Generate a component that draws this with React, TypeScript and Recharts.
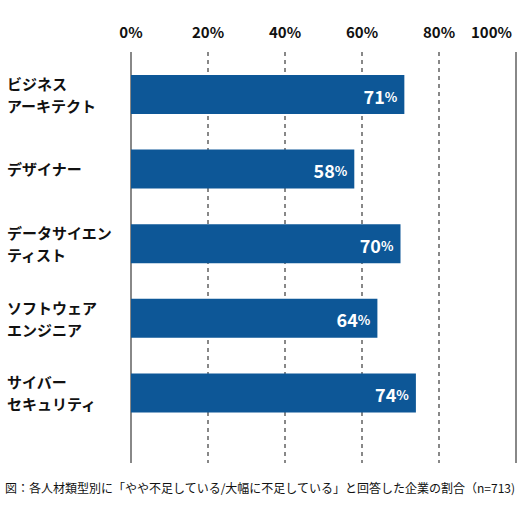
import React from "react";
import { BarChart, Bar, XAxis, YAxis, CartesianGrid, LabelList } from "recharts";

const categories = [
  "ビジネス\nアーキテクト",
  "デザイナー",
  "データサイエン\nティスト",
  "ソフトウェア\nエンジニア",
  "サイバー\nセキュリティ",
];
const shortageRates = [71, 58, 70, 64, 74];
const xTicks = [0, 20, 40, 60, 80, 100];
const caption = "図：各人材類型別に「やや不足している/大幅に不足している」と回答した企業の割合（n=713)";

const data = categories.map((name, i) => ({ name, value: shortageRates[i] }));

const FONT = "'Noto Sans CJK JP', 'Noto Sans', sans-serif";
const BAR_COLOR = "#0d5797";
const LINE_COLOR = "#888888";

const XTick = (props: any) => {
  const { x, payload, index } = props;
  const last = index === xTicks.length - 1;
  return (
    <text
      x={last ? x - 4 : x}
      y={38}
      textAnchor={last ? "end" : "middle"}
      fontFamily={FONT}
      fontWeight={700}
      fontSize={15}
      fill="#111"
    >
      {payload.value}%
    </text>
  );
};

const YTick = (props: any) => {
  const { y, payload } = props;
  const lines = String(payload.value).split("\n");
  const start = y - ((lines.length - 1) * 22) / 2;
  return (
    <text fontFamily={FONT} fontWeight={700} fontSize={15} fill="#111">
      {lines.map((l, i) => (
        <tspan key={i} x={7} y={start + i * 22} dominantBaseline="central">
          {l}
        </tspan>
      ))}
    </text>
  );
};

const ValueLabel = (props: any) => {
  const { x, y, width, height, value } = props;
  return (
    <text
      x={x + width - 7}
      y={y + height / 2 + 1}
      textAnchor="end"
      dominantBaseline="central"
      fontFamily={FONT}
      fontWeight={700}
      fill="#fff"
    >
      <tspan fontSize={18}>{value}</tspan>
      <tspan fontSize={13}>%</tspan>
    </text>
  );
};

const GridLine = (props: any) => {
  const { x1, y1, x2, y2, index } = props;
  const edge = index === 0 || index === xTicks.length - 1;
  return (
    <line
      x1={x1}
      y1={y1}
      x2={x2}
      y2={y2}
      stroke={LINE_COLOR}
      strokeWidth={2}
      strokeDasharray={edge ? undefined : "4 4"}
    />
  );
};

export default function App() {
  return (
    <div style={{ position: "absolute", left: 0, top: 0, width: 520, height: 520, background: "#fff" }}>
      <BarChart
        width={520}
        height={470}
        data={data}
        layout="vertical"
        margin={{ top: 0, right: 4, bottom: 7, left: 0 }}
      >
        <CartesianGrid horizontal={false} vertical={GridLine} />
        <XAxis
          type="number"
          orientation="top"
          domain={[0, 100]}
          ticks={xTicks}
          height={52}
          axisLine={false}
          tickLine={false}
          tick={XTick}
          interval={0}
        />
        <YAxis
          type="category"
          dataKey="name"
          width={131}
          axisLine={false}
          tickLine={false}
          tick={YTick}
          interval={0}
          padding={{ top: 5, bottom: 33 }}
        />
        <Bar dataKey="value" fill={BAR_COLOR} barSize={39} isAnimationActive={false}>
          <LabelList dataKey="value" content={ValueLabel} />
        </Bar>
      </BarChart>
      <div
        style={{
          position: "absolute",
          left: 5,
          top: 480,
          fontFamily: FONT,
          fontSize: 12,
          color: "#111",
          whiteSpace: "nowrap",
          lineHeight: "16px",
        }}
      >
        {caption}
      </div>
    </div>
  );
}
